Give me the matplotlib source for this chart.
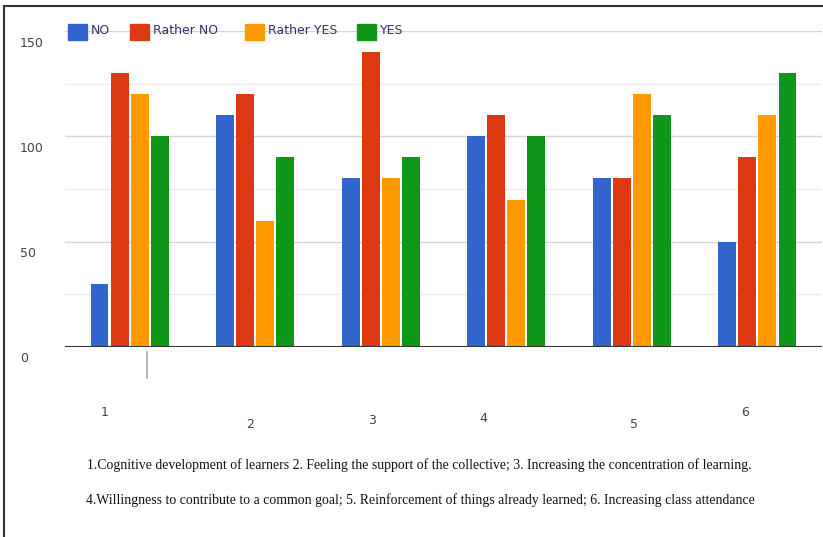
import matplotlib.pyplot as plt
from matplotlib.patches import Rectangle
from matplotlib.lines import Line2D
import numpy as np

# survey answers per statement
groups = ['1', '2', '3', '4', '5', '6']
series = ['NO', 'Rather NO', 'Rather YES', 'YES']
no_vals = [30, 110, 80, 100, 80, 50]
rather_no_vals = [130, 120, 140, 110, 80, 90]
rather_yes_vals = [120, 60, 80, 70, 120, 110]
yes_vals = [100, 90, 90, 100, 110, 130]
colors = ['#3366cc', '#dc3912', '#ff9900', '#109618']

caption = ['1.Cognitive development of learners 2. Feeling the support of the collective; 3. Increasing the concentration of learning.',
           '4.Willingness to contribute to a common goal; 5. Reinforcement of things already learned; 6. Increasing class attendance']

W, H = 823, 537
fig = plt.figure(figsize=(W / 100, H / 100), dpi=100)
ax = fig.add_axes([65 / W, 1 - 347 / H, 757 / W, 316 / H])

x = np.arange(len(groups))
width = 0.143
step = 0.16
for i, vals in enumerate([no_vals, rather_no_vals, rather_yes_vals, yes_vals]):
    ax.bar(x + (i - 1.5) * step, vals, width, color=colors[i], zorder=3)

ax.set_xlim(-0.515, 5.515)
ax.set_ylim(0, 150)

# grid
for v in [25, 75, 125]:
    ax.axhline(v, color='#eeeeee', lw=1, zorder=1)
for v in [50, 100, 150]:
    ax.axhline(v, color='#d6d6d6', lw=1, zorder=1)
ax.axhline(0, color='#333333', lw=2.2, zorder=4)

for s in ax.spines.values():
    s.set_visible(False)
ax.set_xticks([])
ax.set_yticks([])

# y labels sit a bit below their gridlines
for v in [0, 50, 100, 150]:
    yy = ax.transData.transform((0, v))[1] / fig.dpi
    fig.text(0.20, yy - 0.12, str(v), fontsize=9, color='#444444', ha='left', va='center',
             transform=fig.dpi_scale_trans)

# category numbers below the axis
label_dx = [-0.2, -0.04, -0.07, -0.18, 0.02, -0.1]
label_y = [412, 425, 420, 418, 425, 413]
for i, g in enumerate(groups):
    xf = ax.transData.transform((x[i] + label_dx[i], 0))[0] / W
    fig.text(xf, 1 - label_y[i] / H, g, fontsize=9, color='#444444', ha='center', va='center')

# small marker under the first group
xm = ax.transData.transform((x[0] + 0.14, 0))[0] / W
fig.add_artist(Line2D([xm, xm], [1 - 352 / H, 1 - 378 / H], color='#aaaaaa', lw=1.2))

# legend row
leg_pos = [68, 130, 245, 357]
for i, name in enumerate(series):
    fig.add_artist(Rectangle((leg_pos[i] / W, 1 - 40 / H), 19 / W, 16 / H,
                             color=colors[i], transform=fig.transFigure))
    fig.text((leg_pos[i] + 23) / W, 1 - 31 / H, name, fontsize=9, color='#333366',
             ha='left', va='center')

# caption
fig.text(419 / W, 1 - 465 / H, caption[0], fontsize=9.9, family='Liberation Serif',
         color='#111111', ha='center', va='center')
fig.text(420 / W, 1 - 500 / H, caption[1], fontsize=9.9, family='Liberation Serif',
         color='#111111', ha='center', va='center')

# frame on the left and top
fig.add_artist(Line2D([4 / W, 4 / W], [0, 1 - 6 / H], color='#333333', lw=1.5))
fig.add_artist(Line2D([4 / W, 822 / W], [1 - 6 / H, 1 - 6 / H], color='#333333', lw=1.5))

fig.savefig('out.png', dpi=100)
